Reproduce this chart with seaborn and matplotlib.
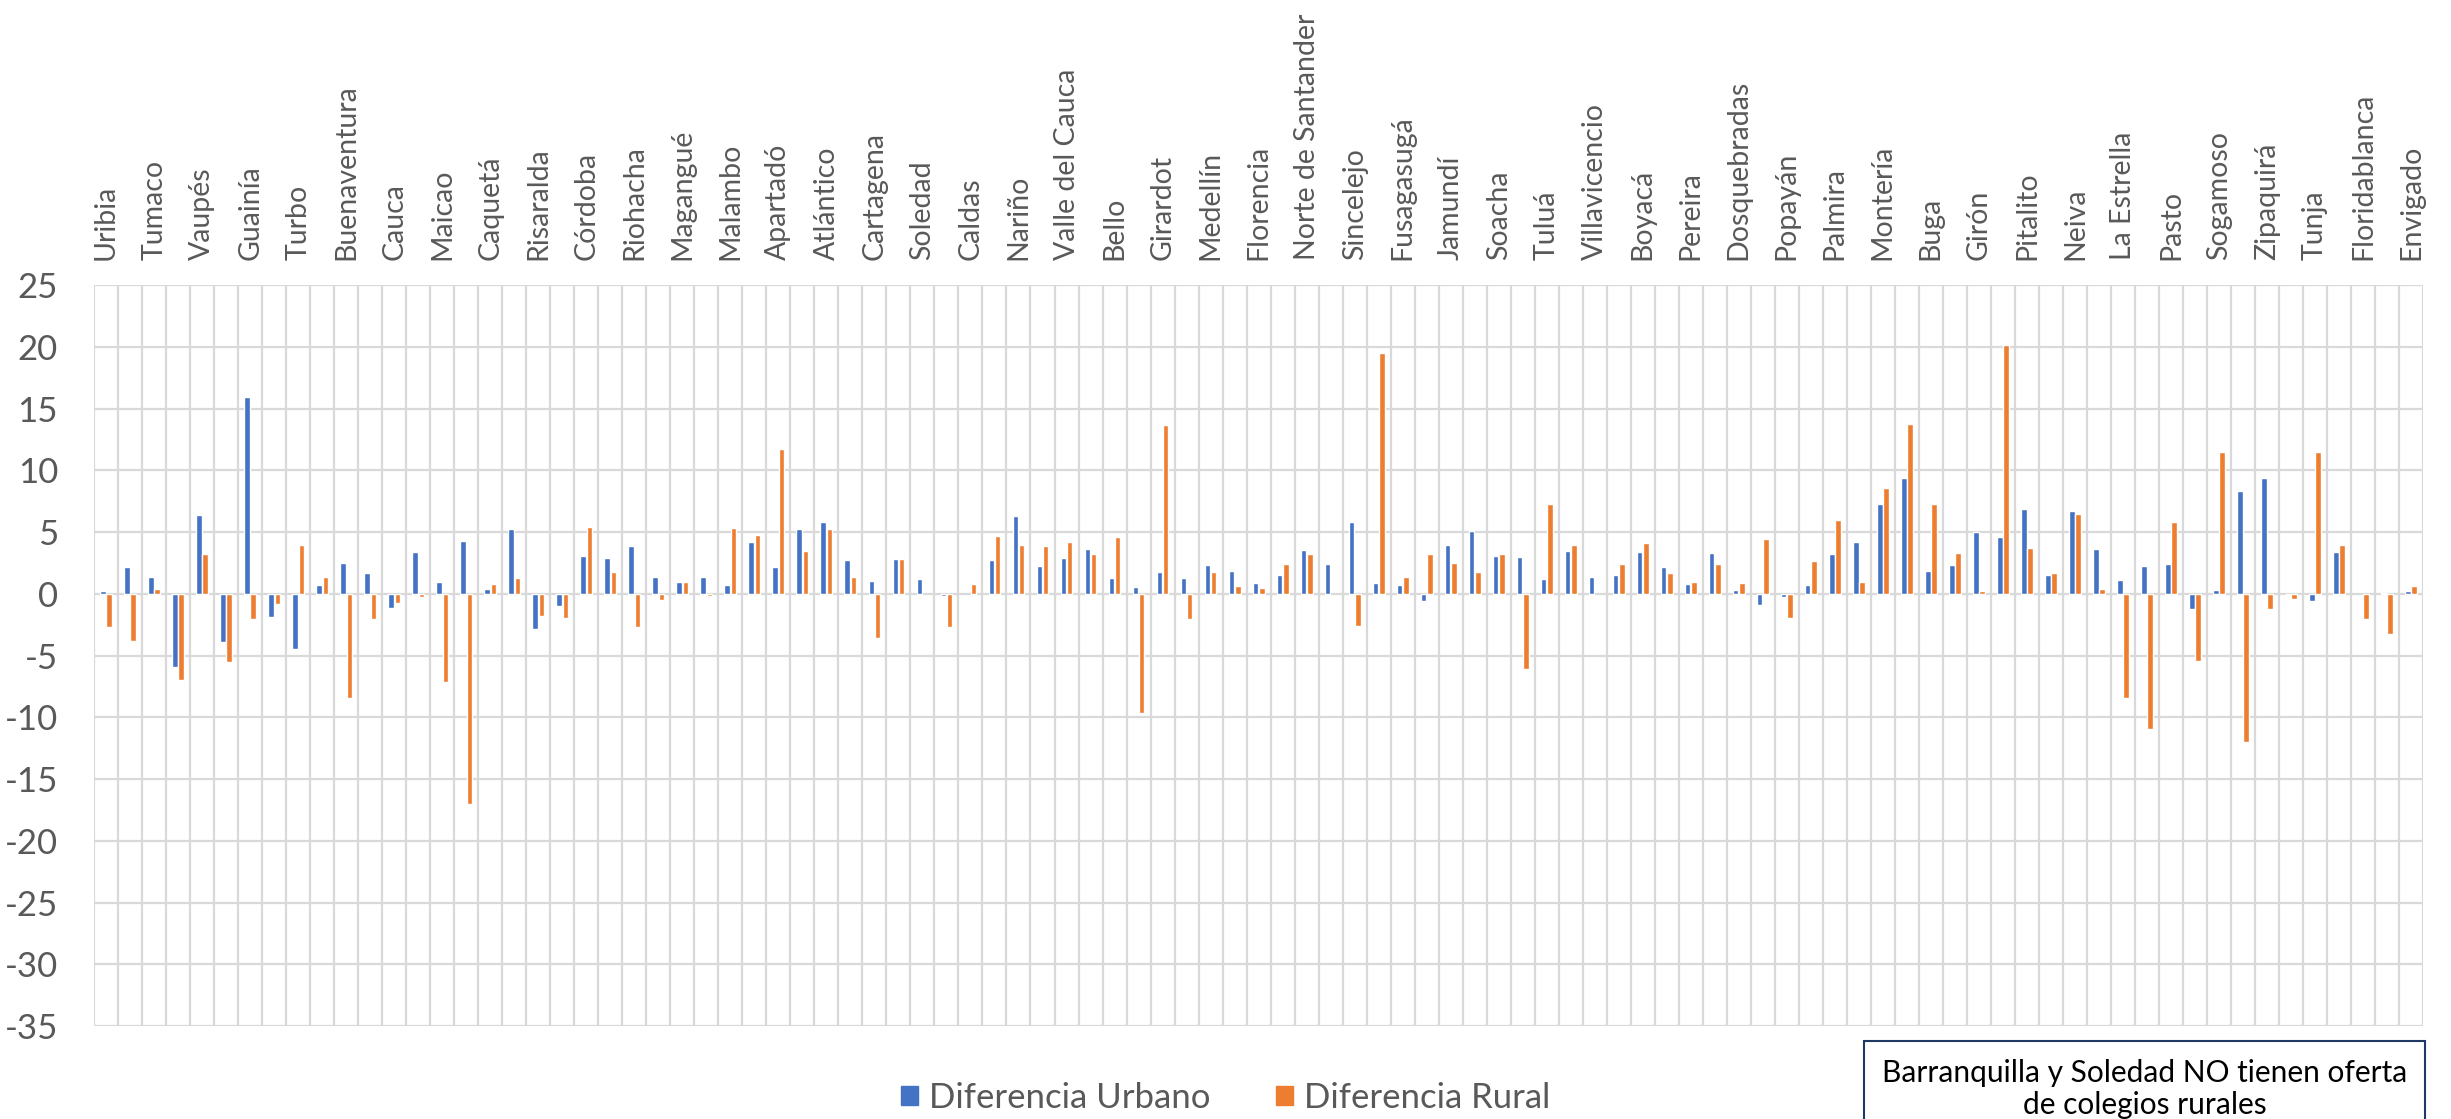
import numpy as np
import pandas as pd
import matplotlib.pyplot as plt
import seaborn as sns

nan = np.nan

# Etiquetas visibles (una de cada dos categorías)
etiquetas = ['Uribia', 'Tumaco', 'Vaupés', 'Guainía', 'Turbo', 'Buenaventura', 'Cauca',
             'Maicao', 'Caquetá', 'Risaralda', 'Córdoba', 'Riohacha', 'Magangué', 'Malambo',
             'Apartadó', 'Atlántico', 'Cartagena', 'Soledad', 'Caldas', 'Nariño',
             'Valle del Cauca', 'Bello', 'Girardot', 'Medellín', 'Florencia',
             'Norte de Santander', 'Sincelejo', 'Fusagasugá', 'Jamundí', 'Soacha', 'Tuluá',
             'Villavicencio', 'Boyacá', 'Pereira', 'Dosquebradas', 'Popayán', 'Palmira',
             'Montería', 'Buga', 'Girón', 'Pitalito', 'Neiva', 'La Estrella', 'Pasto',
             'Sogamoso', 'Zipaquirá', 'Tunja', 'Floridablanca', 'Envigado']

urbano = [0.2, 2.15, 1.35, -5.95, 6.37, -3.9, 15.9, -1.85,
          -4.47, 0.68, 2.53, 1.69, -1.18, 3.42, 0.97, 4.3,
          0.38, 5.23, -2.83, -0.97, 3.04, 2.9, 3.88, 1.35,
          0.97, 1.35, 0.72, 4.18, 2.19, 5.23, 5.82, 2.74,
          1.05, 2.83, 1.22, -0.17, nan, 2.7, 6.33, 2.28,
          2.91, 3.63, 1.27, 0.55, 1.77, 1.3, 2.32, 1.81,
          0.84, 1.52, 3.54, 2.4, 5.82, 0.84, 0.68, -0.59,
          3.97, 5.1, 3.04, 2.95, 1.22, 3.5, 1.39, 1.52,
          3.42, 2.15, 0.8, 3.29, 0.3, -0.89, -0.25, 0.68,
          3.2, 4.18, 7.3, 9.41, 1.86, 2.36, 5.02, 4.6,
          6.84, 1.56, 6.71, 3.59, 1.1, 2.28, 2.4, -1.22,
          0.3, 8.31, 9.41, -0.05, -0.59, 3.42, nan, 0.1, 0.2]

rural = [-2.7, -3.85, 0.4, -7.0, 3.2, -5.5, -2.05, -0.85,
         3.97, 1.4, -8.44, -2.07, -0.76, -0.25, -7.13, -17.05,
         0.76, 1.3, -1.8, -1.98, 5.4, 1.73, -2.66, -0.5,
         0.93, -0.17, 5.32, 4.73, 11.69, 3.5, 5.27, 1.35,
         -3.54, 2.78, nan, -2.66, 0.8, 4.64, 3.92, 3.84,
         4.22, 3.2, 4.56, -9.62, 13.63, -2.07, 1.73, 0.63,
         0.46, 2.4, 3.2, nan, -2.57, 19.5, 1.39, 3.25,
         2.49, 1.73, 3.25, -6.12, 7.3, 3.92, nan, 2.4,
         4.14, 1.69, 0.93, 2.45, 0.84, 4.47, -1.94, 2.66,
         5.99, 0.93, 8.57, 13.71, 7.3, 3.29, 0.25, 20.17,
         3.67, 1.69, 6.5, 0.38, -8.44, -10.93, 5.82, -5.44,
         11.52, -11.98, -1.22, -0.42, 11.52, 3.92, -2.07, -3.25, 0.63]

series = ['Diferencia Urbano', 'Diferencia Rural']
colores = ['#4472C4', '#ED7D31']

n = len(urbano)
df = pd.DataFrame({
    'pos': list(range(n)) * 2,
    'serie': [series[0]] * n + [series[1]] * n,
    'valor': urbano + rural,
})

sns.set_style('white')
plt.rcParams['font.family'] = ['Lato', 'DejaVu Sans']
plt.rcParams['axes.unicode_minus'] = False

fig = plt.figure(figsize=(24.51, 11.19), dpi=100)
ax = fig.add_axes([0.0384, 0.083, 0.9502, 0.6623])

sns.barplot(data=df, x='pos', y='valor', hue='serie', order=list(range(n)),
            hue_order=series, palette=colores, width=0.52, gap=0.1,
            errorbar=None, ax=ax, saturation=1)

ax.set_xlim(-0.5, n - 0.5)
ax.set_ylim(-35, 25)
ax.set_yticks(range(-35, 26, 5))
ax.set_xlabel('')
ax.set_ylabel('')

# etiquetas arriba, una sí y una no
ax.xaxis.tick_top()
ax.set_xticks(range(0, n, 2))
ax.set_xticklabels(etiquetas, rotation=90, fontsize=20.5, color='#595959')
ax.set_xticks(np.arange(-0.5, n, 1), minor=True)
ax.tick_params(axis='x', which='both', length=0, pad=18)
ax.tick_params(axis='y', length=0, pad=26, labelsize=25, labelcolor='#595959')

ax.grid(False)
ax.grid(axis='y', which='major', color='#D9D9D9', linewidth=1.6)
ax.grid(axis='x', which='minor', color='#D9D9D9', linewidth=1.6)
ax.set_axisbelow(True)
for s in ax.spines.values():
    s.set_visible(False)

ax.get_legend().remove()
handles = [plt.Rectangle((0, 0), 1, 1, color=c) for c in colores]
fig.legend(handles, series, loc='center', bbox_to_anchor=(0.5, 0.019), ncol=2,
           frameon=False, fontsize=25, handlelength=0.5, handleheight=0.5,
           handletextpad=0.3, columnspacing=1.9, labelcolor='#595959')

fig.text(0.875, 0.027, 'Barranquilla y Soledad NO tienen oferta\nde colegios rurales',
         ha='center', va='center', fontsize=21.5, color='black', linespacing=1.15,
         bbox=dict(boxstyle='square,pad=0.6', facecolor='white', edgecolor='#1F3864',
                   linewidth=1.5))

fig.savefig('out.png', dpi=100)
